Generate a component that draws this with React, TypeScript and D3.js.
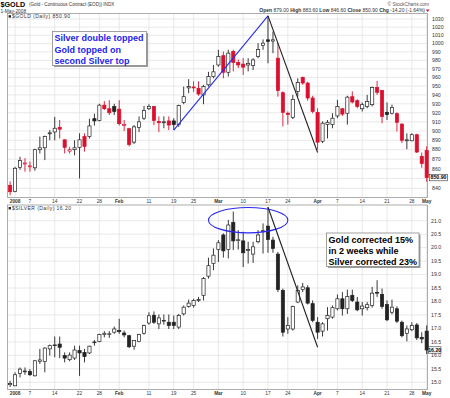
import React from 'react';
import * as d3 from 'd3';

// trading days shown on the chart (Dec 31 2007 .. May 1 2008)
const tradingDays = [
  '2007-12-31',
  '2008-01-02', '2008-01-03', '2008-01-04', '2008-01-07', '2008-01-08', '2008-01-09', '2008-01-10',
  '2008-01-11', '2008-01-14', '2008-01-15', '2008-01-16', '2008-01-17', '2008-01-18', '2008-01-22',
  '2008-01-23', '2008-01-24', '2008-01-25', '2008-01-28', '2008-01-29', '2008-01-30', '2008-01-31',
  '2008-02-01', '2008-02-04', '2008-02-05', '2008-02-06', '2008-02-07', '2008-02-08', '2008-02-11',
  '2008-02-12', '2008-02-13', '2008-02-14', '2008-02-15', '2008-02-19', '2008-02-20', '2008-02-21',
  '2008-02-22', '2008-02-25', '2008-02-26', '2008-02-27', '2008-02-28', '2008-02-29',
  '2008-03-03', '2008-03-04', '2008-03-05', '2008-03-06', '2008-03-07', '2008-03-10', '2008-03-11',
  '2008-03-12', '2008-03-13', '2008-03-14', '2008-03-17', '2008-03-18', '2008-03-19', '2008-03-20',
  '2008-03-24', '2008-03-25', '2008-03-26', '2008-03-27', '2008-03-28', '2008-03-31',
  '2008-04-01', '2008-04-02', '2008-04-03', '2008-04-04', '2008-04-07', '2008-04-08', '2008-04-09',
  '2008-04-10', '2008-04-11', '2008-04-14', '2008-04-15', '2008-04-16', '2008-04-17', '2008-04-18',
  '2008-04-21', '2008-04-22', '2008-04-23', '2008-04-24', '2008-04-25', '2008-04-28', '2008-04-29',
  '2008-04-30', '2008-05-01',
];

// [open, high, low, close]
const goldOHLC: [number, number, number, number][] = [
  [843, 847, 833, 836.5], [837, 862, 836, 860.5], [861.5, 872.5, 859, 868.5], [865, 871, 857, 866],
  [862, 867.5, 857, 863], [861, 881, 858, 880], [880, 894, 876, 882], [882, 895, 869, 894],
  [897, 901, 890, 898], [899, 915.5, 890, 903], [904, 912, 892, 902], [890.5, 891, 876, 882.5],
  [878.5, 883, 876, 880], [880, 890, 874, 882], [882.5, 897.5, 850, 890.5], [894, 897.5, 878, 883.5],
  [894, 913.5, 892, 905.5], [913.5, 919, 906, 911], [911.5, 930, 910.5, 928.5], [928.5, 933, 923, 924.5],
  [924.5, 934, 917.5, 920], [927, 930, 917.5, 921.5], [924, 934, 906, 908], [906, 912, 900, 907],
  [902.5, 903.5, 883.5, 885.5], [888, 906.5, 886, 904.5], [904, 916, 899, 910], [914, 927.5, 912, 922.5],
  [924.5, 929.5, 923, 927], [927, 927.5, 906.5, 911.5], [910.5, 916, 899, 909], [909, 916, 903, 910],
  [911, 916, 901, 906.5], [911, 914, 901, 907], [907, 929, 904.5, 928], [931.5, 949.5, 929.5, 938],
  [948, 958, 942, 949.5], [949, 955.5, 943.5, 948], [947.5, 955.5, 939, 941], [940, 951.5, 929.5, 949.5],
  [951.5, 966.5, 949.5, 961], [961, 974.5, 959, 966.5], [974.5, 992.5, 972.5, 984.5], [985.5, 990.5, 959, 966],
  [966, 992.5, 961, 988.5], [990.5, 992.5, 967, 977.5], [977.5, 981, 971, 974.5], [975.5, 982.5, 963, 972],
  [974.5, 982.5, 967, 976.5], [974, 982.5, 968.5, 980.5], [984.5, 1000.5, 982.5, 993], [997.5, 1005, 992.5, 1000.5],
  [1004.5, 1033.9, 976.5, 1002.5], [1003, 1014.5, 988.5, 1004.5], [982.5, 1000.5, 938, 945], [942.5, 944, 905, 920.5],
  [919.5, 921.5, 907, 918], [915, 940, 913, 935], [944, 959, 938, 954], [960, 961, 951.5, 953.5],
  [953.5, 955, 933.5, 936.5], [936.5, 939, 919.5, 921.5], [920.5, 925, 880, 888], [889, 910.5, 887, 908.5],
  [907, 912, 892, 909.5], [907, 919.5, 903, 914], [916.5, 934.5, 914, 927], [924.5, 925, 916.5, 918.5],
  [919.5, 939, 907, 937.5], [938, 944, 930.5, 932], [933.5, 935, 925, 927], [924.5, 931.5, 921.5, 929],
  [927, 940, 925, 932.5], [929, 949.5, 927, 948.5], [948.5, 956, 940, 943], [945, 945.5, 908.5, 916],
  [920.5, 931.5, 912, 918], [919.5, 929, 918, 926], [919, 920.5, 899.5, 909.5], [907.5, 908.5, 887, 890],
  [889.5, 897.5, 880.5, 890.5], [889.5, 897.5, 889, 896], [896, 897, 876.5, 877.5], [873, 877, 861, 865.5],
  [879, 883.6, 846.6, 850.9],
];

const silverOHLC: [number, number, number, number][] = [
  [14.91, 15.06, 14.83, 14.95], [14.87, 15.37, 14.87, 15.28], [15.33, 15.55, 15.18, 15.49], [15.40, 15.55, 15.28, 15.42],
  [15.40, 15.49, 15.24, 15.28], [15.24, 15.83, 15.22, 15.80], [15.78, 16.24, 15.68, 15.83], [15.77, 16.30, 15.37, 16.27],
  [16.24, 16.40, 15.99, 16.36], [16.37, 16.70, 15.93, 16.39], [16.42, 16.70, 15.90, 16.30], [15.99, 16.11, 15.74, 15.90],
  [15.84, 16.11, 15.78, 16.01], [15.90, 16.36, 15.83, 16.20], [16.18, 16.36, 15.24, 16.09], [16.11, 16.24, 15.74, 15.96],
  [16.09, 16.36, 16.05, 16.34], [16.48, 16.57, 16.36, 16.50], [16.52, 16.80, 16.49, 16.77], [16.77, 16.90, 16.67, 16.82],
  [16.79, 16.90, 16.65, 16.80], [16.86, 17.07, 16.80, 16.98], [16.92, 17.36, 16.80, 16.88], [16.83, 16.92, 16.67, 16.76],
  [16.73, 16.76, 16.27, 16.32], [16.34, 16.57, 16.21, 16.55], [16.52, 16.80, 16.49, 16.77], [16.82, 17.14, 16.77, 17.11],
  [17.20, 17.60, 17.14, 17.47], [17.49, 17.63, 17.17, 17.23], [17.17, 17.52, 16.98, 17.39], [17.29, 17.52, 17.14, 17.30],
  [17.23, 17.52, 16.98, 17.11], [17.23, 17.48, 16.98, 17.11], [17.05, 17.54, 16.98, 17.48], [17.54, 17.85, 17.48, 17.79],
  [17.82, 18.07, 17.77, 17.94], [17.85, 18.10, 17.77, 18.04], [18.05, 18.17, 17.98, 18.07], [18.23, 18.91, 18.04, 18.85],
  [18.94, 19.63, 18.85, 19.33], [19.41, 19.97, 19.16, 19.72], [19.93, 20.28, 19.47, 20.18], [20.47, 20.53, 19.63, 19.88],
  [19.93, 21.03, 19.60, 20.84], [20.94, 21.34, 19.91, 20.25], [20.28, 20.65, 19.93, 20.29], [20.25, 20.59, 19.28, 19.81],
  [19.91, 20.22, 19.41, 19.93], [19.76, 20.22, 19.43, 20.03], [20.22, 20.65, 20.16, 20.47], [20.62, 20.90, 19.78, 20.63],
  [20.80, 21.50, 19.81, 20.30], [20.28, 20.40, 19.81, 19.97], [19.76, 19.84, 18.35, 18.44], [18.41, 18.48, 16.70, 16.86],
  [16.98, 17.42, 16.80, 17.11], [16.98, 17.85, 16.92, 17.82], [17.98, 18.60, 17.94, 18.41], [18.44, 18.69, 18.35, 18.54],
  [18.51, 18.60, 17.89, 17.94], [17.92, 18.04, 17.23, 17.30], [17.23, 17.42, 16.61, 16.86], [16.90, 17.23, 16.70, 17.17],
  [17.36, 17.79, 16.92, 17.48], [17.42, 17.85, 17.36, 17.77], [17.73, 18.26, 17.67, 18.10], [18.10, 18.35, 17.48, 17.73],
  [17.73, 18.44, 17.54, 18.19], [18.23, 18.44, 17.98, 18.04], [17.98, 18.17, 17.64, 17.69], [17.73, 17.98, 17.48, 17.83],
  [17.77, 17.98, 17.67, 17.88], [17.85, 18.54, 17.77, 18.31], [18.34, 18.79, 18.17, 18.31], [18.26, 18.48, 17.73, 17.82],
  [17.89, 18.04, 17.27, 17.32], [17.60, 18.07, 17.52, 17.79], [17.73, 17.82, 17.20, 17.27], [17.23, 17.29, 16.67, 16.73],
  [16.82, 17.11, 16.52, 16.98], [16.95, 17.23, 16.90, 17.11], [17.13, 17.20, 16.57, 16.65], [16.67, 16.86, 16.45, 16.61],
  [16.90, 17.11, 16.05, 16.20],
];

const dateTicks: [string, string, boolean][] = [
  ['2008-01-02', '2008', true], ['2008-01-07', '7', false], ['2008-01-14', '14', false],
  ['2008-01-22', '22', false], ['2008-01-28', '28', false], ['2008-02-01', 'Feb', true],
  ['2008-02-11', '11', false], ['2008-02-19', '19', false], ['2008-02-25', '25', false],
  ['2008-03-03', 'Mar', true], ['2008-03-10', '10', false], ['2008-03-17', '17', false],
  ['2008-03-24', '24', false], ['2008-04-01', 'Apr', true], ['2008-04-07', '7', false],
  ['2008-04-14', '14', false], ['2008-04-21', '21', false], ['2008-04-28', '28', false],
  ['2008-05-01', 'May', true],
];

const goldTicks = [840, 860, 870, 880, 890, 900, 910, 920, 930, 940, 950, 960, 970, 980, 990, 1000, 1010, 1020, 1030];
const goldGrid = [840, 850, ...goldTicks.slice(1)];
const silverTicks = [15.0, 15.5, 16.0, 16.5, 17.0, 17.5, 18.0, 18.5, 19.0, 19.5, 20.0, 20.5, 21.0];

const goldNote = ['Silver double topped', 'Gold topped on', 'second Silver top'];
const silverNote = ['Gold corrected 15%', 'in 2 weeks while', 'Silver corrected 23%'];

const FONT = "'Liberation Sans', Arial, sans-serif";
const RED = '#d9102e';
const INK = '#222';
const GRID = '#e3e3e3';
const FRAME = '#9a9a9a';

const L = 7.5, R = 427.5;
const gTop = 13.5, gBot = 197.5;
const sTop = 205, sBot = 389.5;

type Scale = (v: number) => number;

function Candles({ data, x, y, colorByPrev }: { data: [number, number, number, number][]; x: (d: string) => number; y: Scale; colorByPrev: boolean }) {
  return (
    <g>
      {data.map(([o, h, l, c], i) => {
        const prev = i > 0 ? data[i - 1][3] : o;
        const color = colorByPrev && c < prev ? RED : INK;
        const hollow = c >= o;
        const cx = x(tradingDays[i]);
        const top = y(Math.max(o, c));
        const bh = Math.max(y(Math.min(o, c)) - top, 0.8);
        return (
          <g key={i}>
            <line x1={cx} x2={cx} y1={y(h)} y2={y(l)} stroke={color} strokeWidth={0.9} />
            <rect x={cx - 1.6} y={top} width={3.2} height={bh}
              fill={hollow ? '#fff' : color} stroke={color} strokeWidth={0.7} />
          </g>
        );
      })}
    </g>
  );
}

function NoteBox({ x0, y0, w, h, lines, color }: { x0: number; y0: number; w: number; h: number; lines: string[]; color: string }) {
  return (
    <g>
      <rect x={x0 + 1.5} y={y0 + 1.5} width={w} height={h} fill="#9a9a9a" />
      <rect x={x0} y={y0} width={w} height={h} fill="#fff" stroke="#8a8a8a" strokeWidth={0.8} />
      {lines.map((t, i) => (
        <text key={i} x={x0 + 2} y={y0 + 9.8 + i * 11.3} fontFamily={FONT} fontWeight="bold" fontSize={9} fill={color}>{t}</text>
      ))}
    </g>
  );
}

export default function App() {
  const xp = d3.scalePoint<string>().domain(tradingDays).range([10.1, 426.7]);
  const x = (d: string) => xp(d) as number;
  const yGold = d3.scaleLog().domain([840, 1030]).range([188.3, 19]);
  const ySilver = d3.scaleLinear().domain([15, 21]).range([382.3, 220.7]);

  const small = 5.2;

  const dateRow = (yb: number) =>
    dateTicks.map(([d, t, b]) => (
      <text key={d + yb} x={x(d)} y={yb} textAnchor="middle" fontFamily={FONT} fontSize={4.8}
        fontWeight={b ? 'bold' : 'normal'} fill="#333">{t}</text>
    ));

  const vGrid = (y1: number, y2: number) =>
    dateTicks.map(([d]) => (
      <line key={d + y1} x1={x(d)} x2={x(d)} y1={y1} y2={y2} stroke={GRID} strokeWidth={0.8} />
    ));

  return (
    <div style={{ position: 'absolute', left: 0, top: 0 }}>
      <svg width={450} height={398} style={{ display: 'block', background: '#fff' }}>
        {/* header */}
        <text x={0.5} y={6.9} fontFamily={FONT} fontWeight="bold" fontSize={7.2} fill="#000">$GOLD</text>
        <text x={29} y={6.2} fontFamily={FONT} fontSize={4.6} fill="#333">(Gold - Continuous Contract (EOD)) INDX</text>
        <text x={0.5} y={13} fontFamily={FONT} fontSize={4.8} fill="#333">1-May-2008</text>
        <text x={429} y={5.8} textAnchor="end" fontFamily={FONT} fontSize={4.8} fill="#555">© StockCharts.com</text>
        <text x={425} y={12.2} textAnchor="end" fontFamily={FONT} fontSize={5} fill="#333">
          <tspan fontWeight="bold">Open</tspan> 879.00 <tspan fontWeight="bold">High</tspan> 883.60{' '}
          <tspan fontWeight="bold">Low</tspan> 846.60 <tspan fontWeight="bold">Close</tspan> 850.90{' '}
          <tspan fontWeight="bold">Chg</tspan> -14.20 (-1.64%)
        </text>
        <path d="M425.8,9.6 L429.6,9.6 L427.7,12 Z" fill={RED} />

        {/* gold panel */}
        {goldGrid.map((v) => (
          <line key={v} x1={L} x2={R} y1={yGold(v)} y2={yGold(v)} stroke={GRID} strokeWidth={0.8} />
        ))}
        {vGrid(gTop, gBot)}
        <rect x={L} y={gTop} width={R - L} height={gBot - gTop} fill="none" stroke={FRAME} strokeWidth={0.8} />
        <rect x={8.6} y={15.2} width={2.4} height={2.4} fill="#222" />
        <text x={12} y={18.4} fontFamily={FONT} fontSize={5} letterSpacing={0.45} fill="#333">$GOLD (Daily) 850.90</text>
        {goldTicks.map((v) => (
          <text key={v} x={432} y={yGold(v) + 1.8} fontFamily={FONT} fontSize={small} fill="#333">{v}</text>
        ))}
        <Candles data={goldOHLC} x={x} y={yGold} colorByPrev={true} />
        <line x1={x('2008-02-19')} y1={yGold(901)} x2={x('2008-03-17')} y2={yGold(1033.9)} stroke="#2a2af0" strokeWidth={1.1} />
        <line x1={x('2008-03-17')} y1={yGold(1033.9)} x2={x('2008-04-01')} y2={yGold(877)} stroke="#222" strokeWidth={1.1} />
        <rect x={429.5} y={yGold(850.9) - 3.2} width={18} height={6.4} fill="#fff" stroke="#333" strokeWidth={0.6} />
        <text x={438.5} y={yGold(850.9) + 1.8} textAnchor="middle" fontFamily={FONT} fontWeight="bold" fontSize={small} fill="#000">850.90</text>
        <NoteBox x0={52.5} y0={31.5} w={94} h={34} lines={goldNote} color="#2323ee" />

        {/* date row between panels */}
        {dateRow(203.4)}

        {/* silver panel */}
        {silverTicks.map((v) => (
          <line key={v} x1={L} x2={R} y1={ySilver(v)} y2={ySilver(v)} stroke={GRID} strokeWidth={0.8} />
        ))}
        {vGrid(sTop, sBot)}
        <rect x={L} y={sTop} width={R - L} height={sBot - sTop} fill="none" stroke={FRAME} strokeWidth={0.8} />
        <rect x={8.6} y={207} width={2.4} height={2.4} fill="#222" />
        <text x={12} y={210.2} fontFamily={FONT} fontSize={5} letterSpacing={0.45} fill="#333">$SILVER (Daily) 16.20</text>
        {silverTicks.map((v) => (
          <text key={v} x={431} y={ySilver(v) + 1.8} fontFamily={FONT} fontSize={small} fill="#333">{v.toFixed(1)}</text>
        ))}
        <Candles data={silverOHLC} x={x} y={ySilver} colorByPrev={false} />
        <ellipse cx={(x('2008-02-28') + x('2008-03-24')) / 2} cy={ySilver(21.02)}
          rx={(x('2008-03-24') - x('2008-02-28')) / 2} ry={12.7} fill="none" stroke="#2a2af0" strokeWidth={1.1} />
        <line x1={x('2008-03-17')} y1={ySilver(21.5)} x2={x('2008-04-01')} y2={ySilver(16.3)} stroke="#222" strokeWidth={1.1} />
        <rect x={428.5} y={ySilver(16.2) - 3.2} width={12.5} height={6.4} fill="#fff" stroke="#333" strokeWidth={0.6} />
        <text x={434.7} y={ySilver(16.2) + 1.8} textAnchor="middle" fontFamily={FONT} fontWeight="bold" fontSize={small} fill="#000">16.20</text>
        <NoteBox x0={326.5} y0={233} w={92.5} h={33.5} lines={silverNote} color="#000" />

        {/* bottom date row */}
        {dateRow(395.2)}
      </svg>
    </div>
  );
}
